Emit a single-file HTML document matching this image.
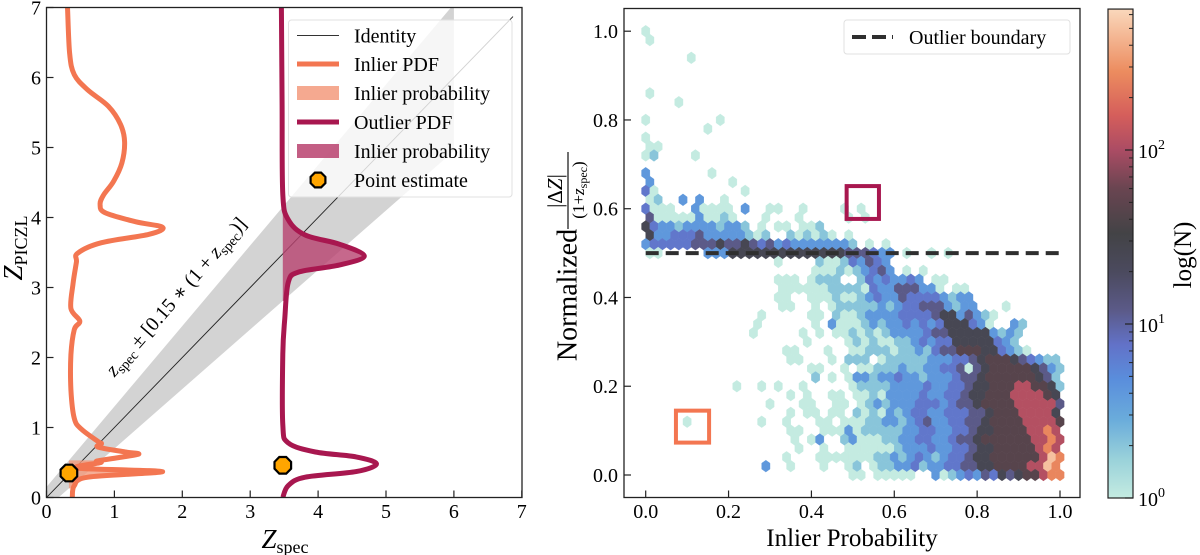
<!DOCTYPE html>
<html><head><meta charset="utf-8"><style>
html,body{margin:0;padding:0;background:#fff;}
svg{display:block;font-family:"Liberation Serif","DejaVu Serif",serif;}
</style></head><body>
<svg id="fig" width="1200" height="555" viewBox="0 0 1200 555" xmlns="http://www.w3.org/2000/svg">
<defs>
<clipPath id="clipL"><rect x="46.5" y="7.5" width="475.5" height="490"/></clipPath>
<clipPath id="clipR"><rect x="624" y="8.5" width="456" height="489"/></clipPath>
<linearGradient id="cbgrad" x1="0" y1="1" x2="0" y2="0"></linearGradient>
</defs>
<g id="left"></g>
<g id="right"></g>
<g id="cbar"></g>
</svg>
<script>
// ---------- Left panel data ----------
const inlierZ = [7.0,6.35,6.04,5.82,5.59,5.33,5.08,4.78,4.52,4.32,4.19,4.07,3.94,3.86,3.76,3.64,3.49,3.36,3.05,2.70,2.52,2.40,2.04,1.54,1.13,0.98,0.80,0.77,0.72,0.65,0.62,0.57,0.52,0.50,0.42,0.37,0.29,0.17,0.0];
const inlierX = [0.31,0.34,0.41,0.61,0.91,1.09,1.15,1.11,0.99,0.84,0.79,0.86,1.31,1.71,1.51,0.81,0.46,0.44,0.39,0.36,0.49,0.41,0.36,0.36,0.41,0.51,0.76,0.81,0.76,1.16,1.36,1.06,0.74,0.80,0.46,1.71,0.61,0.41,0.38];
const outlierZ = [7.0,5.6,4.33,3.97,3.75,3.62,3.45,3.32,3.22,3.07,2.56,2.05,1.04,0.78,0.65,0.58,0.48,0.37,0.29,0.17,0.0];
const outlierX = [3.46,3.47,3.48,3.56,3.81,4.31,4.68,4.31,3.71,3.56,3.51,3.48,3.48,3.56,3.96,4.56,4.86,4.56,3.81,3.56,3.48];
const specZ = [0.33,3.48];
const pointEst = [0.35,0.46];
const leftTicks = [0,1,2,3,4,5,6,7];
const bandFrac = 0.15;

// ---------- Right panel data ----------
const levelCodes = ['a','b','c','d','e','f','g','h','i','j'];
const levelCounts = [1,2,4,7,12,25,45,110,260,500];
// [row j (y = j*0.02), start column, level string ('.' = empty)]
const hexRows = [
[50,0,"a"],[49,0,"a"],[47,5,"a"],[43,0,"a"],[42,4,"a"],[40,0,"a........a"],[39,7,"a"],[38,0,"a"],[37,0,"aa"],
[36,0,"ab....a"],[34,0,"c.......a"],[33,0,"c.........a"],[32,0,"da..........a"],[31,0,"ab..c.c..a"],
[30,0,"daaa..caaaa.c..aa..a....a.a"],[29,0,"eaaaaacaaba...a...a.....a.a"],[28,0,"fdccbccccbccb.a.aa.aab"],
[27,0,"fccdddecccccbab..bababa.a"],[26,0,"cdddddeeefeefedecdcccccccb.a.a"],
[25,0,"aa.....cccffffffffffffffeeedcc.a..a.a"],
[24,16,"a....baabdcedc"],[23,20,"aaababcdec.a.a"],[22,16,"aaa.abbb..bdcdccdc.aa"],[21,16,"aaaaaabbbbadcceeecca.aa"],
[20,16,"aa..aaabaabcdcceddddcbcc"],[19,16,"aa..a.abbbbbcbcddeeecbcc...a"],[18,14,"a.....aa.baabccccddddeffcecba"],
[17,13,"a......a.caaabcbccdcdcdfffdca..cb"],[16,13,"a.....a.a.aababab"+"ccccdeefffffcbcb"],[15,19,"a....ababaabbcdcddfffffdcb"],
[14,17,"aa...a..aabbbabbcbdeegggffdcba"],
[13,17,"aa...a.bbb.abbbbbc"+"ccddefgggfedcbb"],
[12,20,"aa..a.aabbbcbbc"+"cddeaefgggggfecb"],
[11,20,"b.a.accbccdccbc"+"ccdeefggggggfeb"],
[10,11,"a..a.a..a.....abbbbccccd"+"ccddeffggghhggfb"],
[9,17,"a.a..aa.aabaccccdc"+"cddeffggghhhhgf"],
[8,15,"a...aa..aa.abcbcccdd"+"dcdeefgggghhhhhe"],
[7,17,"a.aa.aa.babacbcddc"+"cdddeefggghhhhf"],
[6,5,"a........a..a...aa.aaabbccbcde"+"ccddeefgggghhhhg"],
[5,17,"aa..aaacabbbbbccdd"+"ccddeffgggghhih"],
[4,18,"a.ac..bcaaabbccdd"+"ccdeefgggggghhih"],
[3,18,"a..a..aaaaaabcccd"+"ccddeffggggghih"],
[2,17,"a...aaaaaaabbcbcdc"+"bcddeffgggggghji"],
[1,14,"c..a...a..ab.abbccdbc"+"cddeeffgggghhji"],
[0,25,"aa.aaaaa.."+"cabcdcedfefgghii"]
];
const rightTicks = [0.0,0.2,0.4,0.6,0.8,1.0];
const boundaryY = 0.5;
const boxOrange = [0.113,0.109,0.08,0.072];
const boxCrimson = [0.524,0.614,0.078,0.074];
const cbTicks = [0,1,2];
const cbMaxLog = 2.81;

// ---------- helpers ----------
const NS = "http://www.w3.org/2000/svg";
function mk(parent, tag, attrs, text){ const e=document.createElementNS(NS,tag); for(const k in attrs) e.setAttribute(k,attrs[k]); if(text!==undefined) e.textContent=text; parent.appendChild(e); return e; }
const L = document.getElementById('left'), R = document.getElementById('right'), C = document.getElementById('cbar');
const lx = v => 46.5 + 67.9*v, ly = v => 497.5 - 70*v;
const rx = v => 645.7 + 414.3*v, ry = v => 475 - 443.8*v;
const cy = lg => 498 - 174*lg;

const cmapStops = [[0,'#c4ebe1'],[0.22,'#9ad2da'],[0.45,'#6aacdb'],[0.68,'#5a8edc'],[0.88,'#6272c8'],[1.08,'#5b5a88'],[1.3,'#4b4a5e'],[1.52,'#434346'],[1.78,'#6a4551'],[2.0,'#ab4c64'],[2.2,'#d55e5b'],[2.45,'#ec8c5f'],[2.81,'#fad8bc']];
function hex2rgb(h){return [parseInt(h.slice(1,3),16),parseInt(h.slice(3,5),16),parseInt(h.slice(5,7),16)];}
function cmap(lg){ lg=Math.max(0,Math.min(cbMaxLog,lg)); for(let k=0;k<cmapStops.length-1;k++){ const a=cmapStops[k],b=cmapStops[k+1]; if(lg<=b[0]){ const t=(lg-a[0])/(b[0]-a[0]); const ca=hex2rgb(a[1]),cb=hex2rgb(b[1]); return 'rgb('+ca.map((v,i)=>Math.round(v+(cb[i]-v)*t)).join(',')+')'; } } return cmapStops[cmapStops.length-1][1]; }

function smoothPath(pts){ let d='M'+pts[0][0].toFixed(1)+','+pts[0][1].toFixed(1); for(let i=0;i<pts.length-1;i++){ const p0=pts[Math.max(0,i-1)],p1=pts[i],p2=pts[i+1],p3=pts[Math.min(pts.length-1,i+2)]; const c1=[p1[0]+(p2[0]-p0[0])/6,p1[1]+(p2[1]-p0[1])/6], c2=[p2[0]-(p3[0]-p1[0])/6,p2[1]-(p3[1]-p1[1])/6]; d+=' C'+c1[0].toFixed(1)+','+c1[1].toFixed(1)+' '+c2[0].toFixed(1)+','+c2[1].toFixed(1)+' '+p2[0].toFixed(1)+','+p2[1].toFixed(1);} return d; }
function octagon(cx,cyy,r){ let p=[]; for(let k=0;k<8;k++){const a=Math.PI/8+k*Math.PI/4; p.push((cx+r*Math.cos(a)).toFixed(1)+','+(cyy+r*Math.sin(a)).toFixed(1));} return p.join(' '); }
function interpX(zs,xs,z){ for(let i=0;i<zs.length-1;i++){ if((zs[i]-z)*(zs[i+1]-z)<=0){ const t=(z-zs[i])/(zs[i+1]-zs[i]); return xs[i]+t*(xs[i+1]-xs[i]); } } return xs[xs.length-1]; }
function fillPoly(zs,xs,zsp){ const lo=zsp-bandFrac*(1+zsp), hi=zsp+bandFrac*(1+zsp); const pts=[[lx(zsp),ly(hi)],[lx(interpX(zs,xs,hi)),ly(hi)]]; for(let i=0;i<zs.length;i++){ if(zs[i]<hi && zs[i]>lo) pts.push([lx(xs[i]),ly(zs[i])]); } pts.push([lx(interpX(zs,xs,lo)),ly(lo)]); pts.push([lx(zsp),ly(lo)]); return pts.map(p=>p[0].toFixed(1)+','+p[1].toFixed(1)).join(' '); }

// ---------- LEFT PANEL ----------
const gl = mk(L,'g',{'clip-path':'url(#clipL)'});
const bandPts = [[0,-bandFrac],[0,bandFrac],[6,6+bandFrac*7],[6,6-bandFrac*7]];
const band = mk(gl,'polygon',{points:bandPts.map(p=>lx(p[0]).toFixed(1)+','+ly(p[1]).toFixed(1)).join(' '),fill:'#d3d3d3'});


const idl = mk(gl,'line',{x1:lx(0),y1:ly(0),x2:lx(6.87),y2:ly(6.87),stroke:'#222',"stroke-width":0.9});


const f1 = mk(gl,'polygon',{points:fillPoly(inlierZ,inlierX,specZ[0]),fill:'#f39a7c','fill-opacity':0.8});


const f2 = mk(gl,'polygon',{points:fillPoly(outlierZ,outlierX,specZ[1]),fill:'#b8426f','fill-opacity':0.8});


const c1 = mk(gl,'path',{d:smoothPath(inlierZ.map((z,i)=>[lx(inlierX[i]),ly(z)])),fill:'none',stroke:'#f37651','stroke-width':5,'stroke-linejoin':'round'});


const c2 = mk(gl,'path',{d:smoothPath(outlierZ.map((z,i)=>[lx(outlierX[i]),ly(z)])),fill:'none',stroke:'#a8174f','stroke-width':5,'stroke-linejoin':'round'});


for(let k=0;k<specZ.length;k++){
  const o = mk(gl,'polygon',{points:octagon(lx(specZ[k]),ly(pointEst[k]),9),fill:'#ffa500',stroke:'#000','stroke-width':2.2});
  
  
}
const bt = mk(L,'text',{x:0,y:0,'font-size':20,'text-anchor':'middle',transform:'translate(181,301) rotate(-49)'});


mk(bt,'tspan',{'font-style':'italic'},'z');
mk(bt,'tspan',{'font-size':14,dy:4},'spec');
mk(bt,'tspan',{dy:-4},' ± [0.15 ∗ (1 + ');
mk(bt,'tspan',{'font-style':'italic'},'z');
mk(bt,'tspan',{'font-size':14,dy:4},'spec');
mk(bt,'tspan',{dy:-4},')]');
const fl = mk(L,'rect',{x:46.5,y:7.5,width:475.5,height:490,fill:'none',stroke:'#222','stroke-width':1.3});


for(const t of leftTicks){
  mk(L,'line',{x1:lx(t),y1:497.5,x2:lx(t),y2:490.5,stroke:'#222','stroke-width':1.2});
  mk(L,'line',{x1:46.5,y1:ly(t),x2:53.5,y2:ly(t),stroke:'#222','stroke-width':1.2});
  const xt = mk(L,'text',{x:lx(t),y:518,'font-size':20,'text-anchor':'middle'},String(t));
  
  
  const yt = mk(L,'text',{x:41,y:ly(t)+7,'font-size':20,'text-anchor':'end'},String(t));
  
  
}
const xl = mk(L,'text',{x:285,y:548,'font-size':27,'text-anchor':'middle'});


mk(xl,'tspan',{'font-style':'italic'},'Z');
mk(xl,'tspan',{'font-size':18,dy:5},'spec');
const yl = mk(L,'text',{x:0,y:0,'font-size':27,'text-anchor':'middle',transform:'translate(22,248) rotate(-90)'});


mk(yl,'tspan',{'font-style':'italic'},'Z');
mk(yl,'tspan',{'font-size':18,dy:5},'PICZL');
const lg = mk(L,'g',{});


mk(lg,'rect',{x:288.5,y:20,width:223.5,height:177,rx:3,fill:'#fff','fill-opacity':0.8,stroke:'#e0e0e0','stroke-width':1});
const legY=[35.5,64,93,122,151,180];
const legT=['Identity','Inlier PDF','Inlier probability','Outlier PDF','Inlier probability','Point estimate'];
mk(lg,'line',{x1:297,y1:legY[0],x2:339,y2:legY[0],stroke:'#333','stroke-width':1});
mk(lg,'line',{x1:297,y1:legY[1],x2:339,y2:legY[1],stroke:'#f37651','stroke-width':5});
mk(lg,'rect',{x:297,y:legY[2]-7,width:42,height:14,fill:'#f39a7c','fill-opacity':0.85});
mk(lg,'line',{x1:297,y1:legY[3],x2:339,y2:legY[3],stroke:'#a8174f','stroke-width':5});
mk(lg,'rect',{x:297,y:legY[4]-7,width:42,height:14,fill:'#b8426f','fill-opacity':0.85});
mk(lg,'polygon',{points:octagon(318,legY[5],8),fill:'#ffa500',stroke:'#000','stroke-width':2.2});
for(let k=0;k<legT.length;k++){
  const t = mk(lg,'text',{x:354,y:legY[k]+7,'font-size':20},legT[k]);
  
  
}

// ---------- RIGHT PANEL ----------
const gr = mk(R,'g',{'clip-path':'url(#clipR)'});
const hsx = 414.3*0.02, hsy = 443.8*0.04/3;
for(const row of hexRows){
  const j=row[0], start=row[1], s=row[2];
  for(let c=0;c<s.length;c++){
    const ch=s[c]; if(ch==='.') continue;
    const i=start+c;
    const px = (j%2===1) ? (i+0.5)*0.02 : i*0.02;
    const py = j*0.02;
    const cnt = levelCounts[levelCodes.indexOf(ch)];
    const X=rx(px), Y=ry(py);
    const pts=[[0.5,-0.5],[0.5,0.5],[0,1],[-0.5,0.5],[-0.5,-0.5],[0,-1]].map(v=>(X+v[0]*hsx).toFixed(2)+','+(Y+v[1]*hsy).toFixed(2)).join(' ');
    const col = cmap(Math.log10(cnt));
    const h = mk(gr,'polygon',{points:pts,fill:col,stroke:col,'stroke-width':0.4});
    
    
  }
}
const bl = mk(gr,'line',{x1:rx(0),y1:ry(boundaryY),x2:rx(1.0),y2:ry(boundaryY),stroke:'#2f2f2f','stroke-width':4,'stroke-dasharray':'13,7'});


function dataBox(b,color,name){ const r=mk(gr,'rect',{x:rx(b[0]-b[2]/2),y:ry(b[1]+b[3]/2),width:414.3*b[2],height:443.8*b[3],fill:'none',stroke:color,'stroke-width':4});   }
dataBox(boxOrange,'#f37651','inlier-example-box');
dataBox(boxCrimson,'#a8174f','outlier-example-box');
const fr = mk(R,'rect',{x:624,y:8.5,width:456,height:489,fill:'none',stroke:'#222','stroke-width':1.3});


for(const t of rightTicks){
  mk(R,'line',{x1:rx(t),y1:497.5,x2:rx(t),y2:490.5,stroke:'#222','stroke-width':1.2});
  mk(R,'line',{x1:624,y1:ry(t),x2:631,y2:ry(t),stroke:'#222','stroke-width':1.2});
  const xt = mk(R,'text',{x:rx(t),y:518,'font-size':20,'text-anchor':'middle'},t.toFixed(1));
  
  
  const yt = mk(R,'text',{x:618,y:ry(t)+7,'font-size':20,'text-anchor':'end'},t.toFixed(1));
  
  
}
const rxl = mk(R,'text',{x:852,y:546,'font-size':25,'text-anchor':'middle'},'Inlier Probability');


const ryl = mk(R,'g',{transform:'translate(570,253) rotate(-90)'});


mk(ryl,'text',{x:-42,y:0,'font-size':28,'text-anchor':'middle','dominant-baseline':'middle'},'Normalized');
const fn = mk(ryl,'text',{x:62,y:-8,'font-size':21,'text-anchor':'middle'});
mk(fn,'tspan',{},'|Δ');
mk(fn,'tspan',{'font-style':'italic'},'Z');
mk(fn,'tspan',{},'|');
mk(ryl,'line',{x1:24,y1:-2,x2:101,y2:-2,stroke:'#111','stroke-width':1.2});
const fd = mk(ryl,'text',{x:63,y:14,'font-size':17,'text-anchor':'middle'});
mk(fd,'tspan',{},'(1+');
mk(fd,'tspan',{'font-style':'italic'},'z');
mk(fd,'tspan',{'font-size':12,dy:3},'spec');
mk(fd,'tspan',{dy:-3},')');
const rl = mk(R,'g',{});


mk(rl,'rect',{x:844,y:20,width:226,height:34,rx:3,fill:'#fff','fill-opacity':0.85,stroke:'#e0e0e0','stroke-width':1});
mk(rl,'line',{x1:852,y1:37,x2:893,y2:37,stroke:'#2f2f2f','stroke-width':4,'stroke-dasharray':'14,6'});
const rlt = mk(rl,'text',{x:909,y:44,'font-size':20},'Outlier boundary');



// ---------- COLORBAR ----------
const grad = document.getElementById('cbgrad');
for(const s of cmapStops){ mk(grad,'stop',{offset:(s[0]/cbMaxLog).toFixed(4),'stop-color':s[1]}); }
const cbr = mk(C,'rect',{x:1108,y:cy(cbMaxLog),width:25,height:cy(0)-cy(cbMaxLog),fill:'url(#cbgrad)',stroke:'#222','stroke-width':1.2});


for(const d of cbTicks){
  mk(C,'line',{x1:1133,y1:cy(d),x2:1125,y2:cy(d),stroke:'#222','stroke-width':1.2});
  const t = mk(C,'text',{x:1138,y:cy(d)+8,'font-size':20});
  
  
  mk(t,'tspan',{},'10');
  mk(t,'tspan',{'font-size':14,dy:-9},String(d));
  for(let m=2;m<=9;m++){ const lgv=d+Math.log10(m); if(lgv<=cbMaxLog) mk(C,'line',{x1:1133,y1:cy(lgv),x2:1129,y2:cy(lgv),stroke:'#222','stroke-width':1}); }
}
const cbl = mk(C,'text',{x:0,y:0,'font-size':25,'text-anchor':'middle',transform:'translate(1191,255) rotate(-90)'},'log(N)');


</script>
</body></html>
